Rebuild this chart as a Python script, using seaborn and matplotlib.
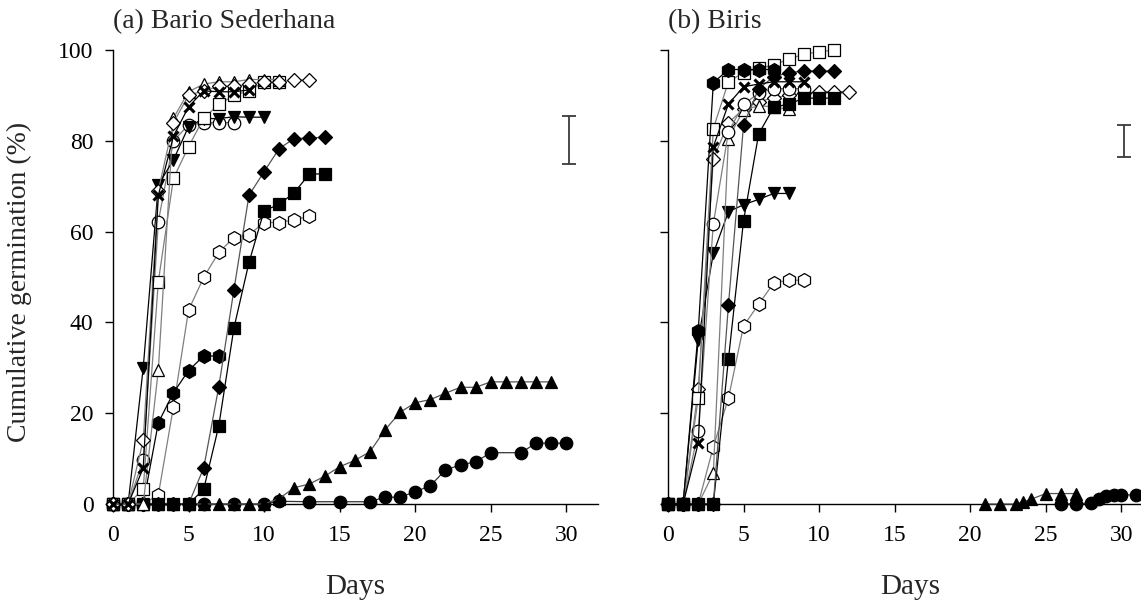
import numpy as np
import pandas as pd
import matplotlib
matplotlib.use("Agg")
import matplotlib.pyplot as plt
import seaborn as sns

sns.set_style("ticks")
plt.rcParams["font.family"] = ["Liberation Serif", "DejaVu Serif"]

# ---------------- data: panel (a) Bario Sederhana ----------------
a_open_diamond_days = list(range(0, 14))
a_open_diamond_vals = [0, 0, 14, 69, 84, 90, 91, 92, 92, 92.5, 93, 93, 93.4, 93.4]
a_open_triangle_days = list(range(0, 12))
a_open_triangle_vals = [0, 0, 0, 29.5, 85, 90.8, 92.5, 93, 93, 93.5, 93.5, 93.5]
a_cross_days = list(range(0, 10))
a_cross_vals = [0, 0, 7.9, 68, 81, 87.5, 91, 90.8, 90.8, 91.2]
a_open_square_days = list(range(0, 12))
a_open_square_vals = [0, 0, 3.3, 49, 71.7, 78.7, 85, 88, 90, 91, 93, 93]
a_open_circle_days = list(range(0, 9))
a_open_circle_vals = [0, 0, 9.7, 62.2, 80, 83.5, 84, 84, 84]
a_filled_invtri_days = list(range(0, 11))
a_filled_invtri_vals = [0, 0, 30, 70.3, 75.8, 83.1, 84.9, 84.9, 85.3, 85.2, 85.2]
a_filled_diamond_days = list(range(0, 15))
a_filled_diamond_vals = [0, 0, 0, 0, 0, 0, 7.9, 25.8, 47.1, 68, 73.2, 78.3, 80.5, 80.6, 80.8]
a_filled_square_days = list(range(0, 15))
a_filled_square_vals = [0, 0, 0, 0, 0, 0, 3.2, 17.2, 38.7, 53.2, 64.6, 66, 68.6, 72.7, 72.7]
a_open_hex_days = list(range(0, 14))
a_open_hex_vals = [0, 0, 0, 2, 21.4, 42.7, 49.9, 55.4, 58.7, 59.3, 62, 62, 62.6, 63.4]
a_filled_hex_days = list(range(0, 8))
a_filled_hex_vals = [0, 0, 0, 17.9, 24.5, 29.4, 32.6, 32.6]
a_filled_triangle_days = list(range(0, 30))
a_filled_triangle_vals = [0, 0, 0, 0, 0, 0, 0, 0, 0, 0, 0, 1.2, 3.6, 4.4, 6.1, 8.2, 9.6,
                          11.5, 16.3, 20.2, 22.3, 23, 24.4, 25.7, 25.7, 26.9, 26.9,
                          26.9, 26.9, 26.9]
a_filled_circle_days = [0, 1, 2, 3, 4, 5, 6, 8, 10, 11, 13, 15, 17, 18, 19, 20, 21, 22,
                        23, 24, 25, 27, 28, 29, 30]
a_filled_circle_vals = [0, 0, 0, 0, 0, 0, 0, 0, 0, 0.6, 0.5, 0.5, 0.5, 1.5, 1.5, 2.7,
                        4.0, 7.5, 8.6, 9.3, 11.3, 11.3, 13.4, 13.4, 13.4]

# ---------------- data: panel (b) Biris ----------------
b_open_diamond_days = list(range(0, 13))
b_open_diamond_vals = [0, 0, 25.3, 76, 84, 87, 88.6, 89.5, 90, 90.5, 90.8, 90.8, 90.8]
b_open_triangle_days = list(range(0, 9))
b_open_triangle_vals = [0, 0, 0, 6.8, 80.5, 86.8, 87.7, 87.5, 86.9]
b_cross_days = list(range(0, 10))
b_cross_vals = [0, 0, 13.4, 78.7, 88.1, 91.9, 92.5, 93, 93, 93]
b_open_square_days = list(range(0, 12))
b_open_square_vals = [0, 0, 23.3, 82.7, 93, 95, 96, 96.7, 98, 99.1, 99.6, 100]
b_open_circle_days = list(range(0, 10))
b_open_circle_vals = [0, 0, 16.1, 61.7, 82, 88, 90.5, 91.5, 91.5, 91.5]
b_filled_invtri_days = list(range(0, 9))
b_filled_invtri_vals = [0, 0, 36.1, 55.2, 64.4, 65.9, 67.1, 68.4, 68.4]
b_filled_diamond_days = list(range(0, 12))
b_filled_diamond_vals = [0, 0, 0, 0, 43.8, 83.5, 91.5, 94.1, 95, 95.4, 95.4, 95.4]
b_filled_square_days = list(range(0, 12))
b_filled_square_vals = [0, 0, 0, 0, 31.9, 62.4, 81.5, 87.4, 88.1, 89.4, 89.4, 89.4]
b_open_hex_days = list(range(0, 10))
b_open_hex_vals = [0, 0, 0, 12.6, 23.3, 39.2, 44, 48.7, 49.3, 49.3]
b_filled_hex_days = list(range(0, 8))
b_filled_hex_vals = [0, 0, 38, 92.8, 95.7, 95.7, 95.7, 95.7]
b_filled_triangle_days = [21, 22, 23, 23.5, 24, 25, 26, 27]
b_filled_triangle_vals = [0, 0, 0, 0.5, 1, 2.3, 2.3, 2.3]
b_filled_circle_days = [26, 27, 28, 28.5, 29, 29.5, 30, 31]
b_filled_circle_vals = [0, 0, 0.3, 1, 1.8, 2, 2, 2]

# error bars (LSD)
a_err_x, a_err_y, a_err_h = [30.2], [80.2], [5.35]
b_err_x, b_err_y, b_err_h = [30.15], [80.0], [3.5]

xticks = [0, 5, 10, 15, 20, 25, 30]
yticks = [0, 20, 40, 60, 80, 100]
titles = ["(a) Bario Sederhana", "(b) Biris"]
xlabel = "Days"
ylabel = "Cumulative germination (%)"

# ---------------- styles ----------------
# (marker, filled, line colour, marker size)
styles = {
    "open_diamond": ("D", False, "#7f7f7f", 7.5),
    "open_triangle": ("^", False, "#7f7f7f", 9),
    "cross": ("x", True, "black", 7.5),
    "open_square": ("s", False, "#7f7f7f", 8.5),
    "open_circle": ("o", False, "#7f7f7f", 9),
    "filled_invtri": ("v", True, "black", 9),
    "filled_diamond": ("D", True, "#555555", 7.5),
    "filled_square": ("s", True, "black", 8.5),
    "open_hex": ("h", False, "#7f7f7f", 10),
    "filled_hex": ("h", True, "black", 10),
    "filled_triangle": ("^", True, "#555555", 9),
    "filled_circle": ("o", True, "#333333", 9),
}

panel_a = [
    ("filled_circle", a_filled_circle_days, a_filled_circle_vals),
    ("filled_triangle", a_filled_triangle_days, a_filled_triangle_vals),
    ("open_hex", a_open_hex_days, a_open_hex_vals),
    ("filled_hex", a_filled_hex_days, a_filled_hex_vals),
    ("filled_square", a_filled_square_days, a_filled_square_vals),
    ("filled_diamond", a_filled_diamond_days, a_filled_diamond_vals),
    ("open_circle", a_open_circle_days, a_open_circle_vals),
    ("filled_invtri", a_filled_invtri_days, a_filled_invtri_vals),
    ("open_square", a_open_square_days, a_open_square_vals),
    ("open_triangle", a_open_triangle_days, a_open_triangle_vals),
    ("open_diamond", a_open_diamond_days, a_open_diamond_vals),
    ("cross", a_cross_days, a_cross_vals),
]
panel_b = [
    ("filled_circle", b_filled_circle_days, b_filled_circle_vals),
    ("filled_triangle", b_filled_triangle_days, b_filled_triangle_vals),
    ("open_hex", b_open_hex_days, b_open_hex_vals),
    ("filled_invtri", b_filled_invtri_days, b_filled_invtri_vals),
    ("open_diamond", b_open_diamond_days, b_open_diamond_vals),
    ("open_triangle", b_open_triangle_days, b_open_triangle_vals),
    ("open_circle", b_open_circle_days, b_open_circle_vals),
    ("open_square", b_open_square_days, b_open_square_vals),
    ("filled_square", b_filled_square_days, b_filled_square_vals),
    ("filled_diamond", b_filled_diamond_days, b_filled_diamond_vals),
    ("cross", b_cross_days, b_cross_vals),
    ("filled_hex", b_filled_hex_days, b_filled_hex_vals),
]

W, H = 1141, 602
fig = plt.figure(figsize=(W / 100, H / 100), dpi=100)
ax_w = 485 / W
ax_h = 454 / H
ax_bottom = (H - 504) / H
axA = fig.add_axes([113 / W, ax_bottom, ax_w, ax_h])
axB = fig.add_axes([668 / W, ax_bottom, ax_w, ax_h])


def draw(ax, series, errx, erry, errh, title, show_ylabels):
    for z, (key, days, vals) in enumerate(series):
        marker, filled, lc, ms = styles[key]
        df = pd.DataFrame({"day": days, "pct": vals})
        kws = dict(marker=marker, markersize=ms, markeredgecolor="black",
                   markerfacecolor="black" if filled else "white",
                   markeredgewidth=2.2 if marker == "x" else 0.9)
        sns.lineplot(data=df, x="day", y="pct", ax=ax, color=lc, linewidth=0.9,
                     errorbar=None, clip_on=False, zorder=3 + z * 0.1, **kws)
    ax.errorbar(errx, erry, yerr=errh, fmt="none", ecolor="#3a3a3a",
                elinewidth=1.3, capsize=5, capthick=1.3)
    ax.set_xlim(0, 32.1)
    ax.set_ylim(0, 100)
    ax.set_xticks(xticks)
    ax.set_yticks(yticks)
    sns.despine(ax=ax)
    for s in ("left", "bottom"):
        ax.spines[s].set_linewidth(1.0)
        ax.spines[s].set_color("black")
    ax.tick_params(direction="out", length=6, width=1, labelsize=17,
                   colors="black")
    ax.tick_params(axis="x", pad=9)
    ax.tick_params(axis="y", pad=8)
    ax.set_xlabel(xlabel, fontsize=21)
    ax.xaxis.set_label_coords(0.5, -0.155)
    if show_ylabels:
        ax.set_ylabel(ylabel, fontsize=20)
        ax.yaxis.set_label_coords(-0.167, 0.49)
    else:
        ax.set_ylabel("")
        ax.tick_params(axis="y", labelleft=False)
    ax.text(0.0, 1.062, title, transform=ax.transAxes, ha="left", va="center",
            fontsize=20)


draw(axA, panel_a, a_err_x, a_err_y, a_err_h, titles[0], True)
draw(axB, panel_b, b_err_x, b_err_y, b_err_h, titles[1], False)

fig.savefig("out.png", dpi=100)
